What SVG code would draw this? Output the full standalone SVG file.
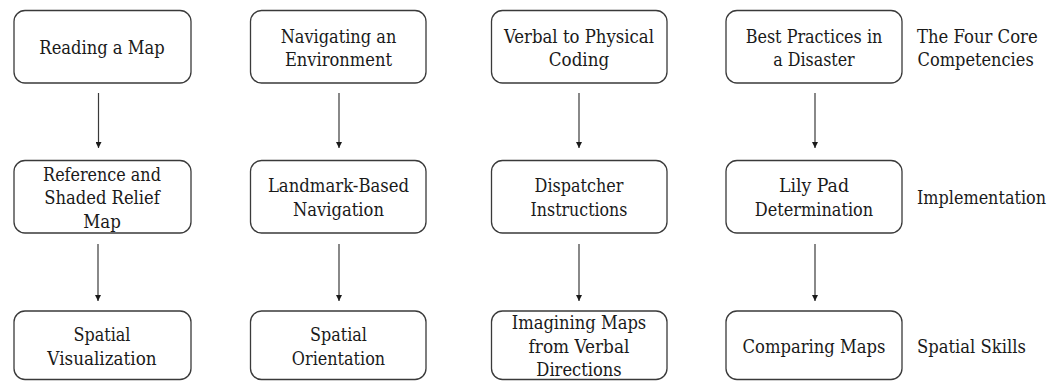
<svg xmlns="http://www.w3.org/2000/svg" width="1057" height="381" viewBox="0 0 1057 381">
<style>
.box{fill:#fff;stroke:#3a3a3a;stroke-width:1.3}
text{font-family:'DejaVu Serif Condensed','DejaVu Serif','Liberation Serif',serif;font-stretch:condensed;font-size:18.5px;fill:#1a1a1a}
.t{text-anchor:middle}
.lbl{text-anchor:start}
.c{stroke:#3a3a3a;stroke-width:1.2;fill:none;marker-end:url(#ah)}
</style>
<defs>
<marker id="ah" viewBox="0 0 10 10" refX="10" refY="5" markerWidth="6" markerHeight="6" markerUnits="userSpaceOnUse" orient="auto">
<path d="M0,0 L10,5 L0,10 Z" fill="#1a1a1a"/>
</marker>
</defs>
<rect width="1057" height="381" fill="#fff"/>
<g id="connectors">
<path class="c" d="M98.5,93 V148"/>
<path class="c" d="M98,244 V301"/>
<path class="c" d="M339,93 V148"/>
<path class="c" d="M339,244 V301"/>
<path class="c" d="M579,93 V148"/>
<path class="c" d="M579,244 V301"/>
<path class="c" d="M815,93 V148"/>
<path class="c" d="M815,244 V301"/>
</g>
<g id="n1"><rect class="box" x="14" y="10.5" width="177" height="72.5" rx="11"/><text class="t" x="102" y="54" textLength="125.3" lengthAdjust="spacingAndGlyphs">Reading a Map</text></g>
<g id="n2"><rect class="box" x="250.5" y="10.5" width="175.5" height="72.5" rx="11"/><text class="t" x="338.5" y="42.5" textLength="115.6" lengthAdjust="spacingAndGlyphs">Navigating an</text><text class="t" x="338.5" y="66" textLength="107.1" lengthAdjust="spacingAndGlyphs">Environment</text></g>
<g id="n3"><rect class="box" x="491.5" y="10.5" width="175.5" height="72.5" rx="11"/><text class="t" x="579" y="42.5" textLength="150" lengthAdjust="spacingAndGlyphs">Verbal to Physical</text><text class="t" x="579" y="66" textLength="60.4" lengthAdjust="spacingAndGlyphs">Coding</text></g>
<g id="n4"><rect class="box" x="726" y="10.5" width="176" height="72.5" rx="11"/><text class="t" x="814" y="42.5" textLength="136.7" lengthAdjust="spacingAndGlyphs">Best Practices in</text><text class="t" x="814" y="66" textLength="81.4" lengthAdjust="spacingAndGlyphs">a Disaster</text></g>
<g id="l1"><text class="lbl" x="917" y="42.5" textLength="120.7" lengthAdjust="spacingAndGlyphs">The Four Core</text><text class="lbl" x="917.5" y="66" textLength="116.2" lengthAdjust="spacingAndGlyphs">Competencies</text></g>
<g id="n5"><rect class="box" x="14" y="160.5" width="177" height="72.5" rx="11"/><text class="t" x="102" y="180.5" textLength="117.8" lengthAdjust="spacingAndGlyphs">Reference and</text><text class="t" x="102" y="204" textLength="115.6" lengthAdjust="spacingAndGlyphs">Shaded Relief</text><text class="t" x="102" y="227.5" textLength="37.6" lengthAdjust="spacingAndGlyphs">Map</text></g>
<g id="n6"><rect class="box" x="250.5" y="160.5" width="175.5" height="72.5" rx="11"/><text class="t" x="338.5" y="192" textLength="141.2" lengthAdjust="spacingAndGlyphs">Landmark-Based</text><text class="t" x="338.5" y="215.5" textLength="91.1" lengthAdjust="spacingAndGlyphs">Navigation</text></g>
<g id="n7"><rect class="box" x="491.5" y="160.5" width="175.5" height="72.5" rx="11"/><text class="t" x="579" y="192" textLength="88.8" lengthAdjust="spacingAndGlyphs">Dispatcher</text><text class="t" x="579" y="215.5" textLength="96.8" lengthAdjust="spacingAndGlyphs">Instructions</text></g>
<g id="n8"><rect class="box" x="726" y="160.5" width="176" height="72.5" rx="11"/><text class="t" x="814" y="192" textLength="70" lengthAdjust="spacingAndGlyphs">Lily Pad</text><text class="t" x="814" y="215.5" textLength="118.4" lengthAdjust="spacingAndGlyphs">Determination</text></g>
<g id="l2"><text class="lbl" x="917" y="204" textLength="129" lengthAdjust="spacingAndGlyphs">Implementation</text></g>
<g id="n9"><rect class="box" x="14" y="311" width="177" height="68.5" rx="11"/><text class="t" x="102" y="341" textLength="56.9" lengthAdjust="spacingAndGlyphs">Spatial</text><text class="t" x="102" y="364.5" textLength="109.3" lengthAdjust="spacingAndGlyphs">Visualization</text></g>
<g id="n10"><rect class="box" x="250.5" y="311" width="175.5" height="68.5" rx="11"/><text class="t" x="338.5" y="341" textLength="56.9" lengthAdjust="spacingAndGlyphs">Spatial</text><text class="t" x="338.5" y="364.5" textLength="93.4" lengthAdjust="spacingAndGlyphs">Orientation</text></g>
<g id="n11"><rect class="box" x="491.5" y="311" width="175.5" height="68.5" rx="11"/><text class="t" x="579" y="329" textLength="134.5" lengthAdjust="spacingAndGlyphs">Imagining Maps</text><text class="t" x="579" y="352.5" textLength="100.8" lengthAdjust="spacingAndGlyphs">from Verbal</text><text class="t" x="579" y="376" textLength="85.4" lengthAdjust="spacingAndGlyphs">Directions</text></g>
<g id="n12"><rect class="box" x="726" y="311" width="176" height="68.5" rx="11"/><text class="t" x="814" y="352.5" textLength="142.9" lengthAdjust="spacingAndGlyphs">Comparing Maps</text></g>
<g id="l3"><text class="lbl" x="917" y="352.5" textLength="108.8" lengthAdjust="spacingAndGlyphs">Spatial Skills</text></g>
</svg>
